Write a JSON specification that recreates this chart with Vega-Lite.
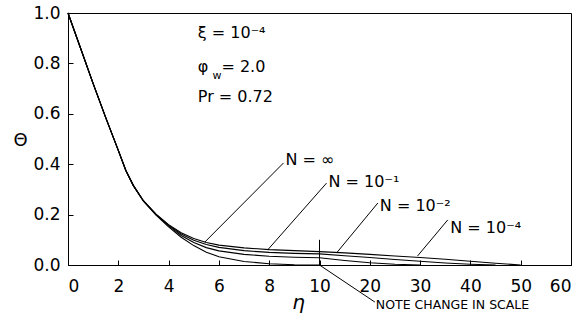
{
  "$schema": "https://vega.github.io/schema/vega-lite/v6.json",
  "width": 503,
  "height": 252,
  "autosize": {"type": "none"},
  "padding": {"left": 68, "top": 13, "right": 17, "bottom": 57},
  "background": "white",
  "config": {"view": {"stroke": "black", "strokeWidth": 1}, "font": "DejaVu Sans"},
  "datasets": {
    "curves": [
      {"series": "A", "eta": 0, "theta": 1.0}, {"series": "A", "eta": 0.5, "theta": 0.86}, {"series": "A", "eta": 1, "theta": 0.72}, {"series": "A", "eta": 1.5, "theta": 0.585}, {"series": "A", "eta": 2, "theta": 0.455}, {"series": "A", "eta": 2.3, "theta": 0.375}, {"series": "A", "eta": 2.6, "theta": 0.315}, {"series": "A", "eta": 3, "theta": 0.255}, {"series": "A", "eta": 3.5, "theta": 0.202},
      {"series": "A", "eta": 4, "theta": 0.16}, {"series": "A", "eta": 4.5, "theta": 0.128}, {"series": "A", "eta": 5, "theta": 0.105}, {"series": "A", "eta": 5.5, "theta": 0.089}, {"series": "A", "eta": 6, "theta": 0.079}, {"series": "A", "eta": 7, "theta": 0.068}, {"series": "A", "eta": 8, "theta": 0.061}, {"series": "A", "eta": 9, "theta": 0.057}, {"series": "A", "eta": 10, "theta": 0.053},
      {"series": "A", "eta": 15, "theta": 0.048}, {"series": "A", "eta": 20, "theta": 0.042}, {"series": "A", "eta": 25, "theta": 0.036}, {"series": "A", "eta": 30, "theta": 0.03}, {"series": "A", "eta": 35, "theta": 0.023}, {"series": "A", "eta": 40, "theta": 0.015}, {"series": "A", "eta": 45, "theta": 0.007}, {"series": "A", "eta": 50, "theta": 0.0},
      {"series": "B", "eta": 0, "theta": 1.0}, {"series": "B", "eta": 0.5, "theta": 0.86}, {"series": "B", "eta": 1, "theta": 0.72}, {"series": "B", "eta": 1.5, "theta": 0.585}, {"series": "B", "eta": 2, "theta": 0.455}, {"series": "B", "eta": 2.3, "theta": 0.375}, {"series": "B", "eta": 2.6, "theta": 0.315}, {"series": "B", "eta": 3, "theta": 0.254}, {"series": "B", "eta": 3.5, "theta": 0.201},
      {"series": "B", "eta": 4, "theta": 0.158}, {"series": "B", "eta": 4.5, "theta": 0.123}, {"series": "B", "eta": 5, "theta": 0.098}, {"series": "B", "eta": 5.5, "theta": 0.081}, {"series": "B", "eta": 6, "theta": 0.07}, {"series": "B", "eta": 7, "theta": 0.057}, {"series": "B", "eta": 8, "theta": 0.05}, {"series": "B", "eta": 9, "theta": 0.046}, {"series": "B", "eta": 10, "theta": 0.044},
      {"series": "B", "eta": 15, "theta": 0.037}, {"series": "B", "eta": 20, "theta": 0.03}, {"series": "B", "eta": 25, "theta": 0.022}, {"series": "B", "eta": 30, "theta": 0.015}, {"series": "B", "eta": 35, "theta": 0.008}, {"series": "B", "eta": 40, "theta": 0.003}, {"series": "B", "eta": 45, "theta": 0.0},
      {"series": "C", "eta": 0, "theta": 1.0}, {"series": "C", "eta": 0.5, "theta": 0.86}, {"series": "C", "eta": 1, "theta": 0.72}, {"series": "C", "eta": 1.5, "theta": 0.585}, {"series": "C", "eta": 2, "theta": 0.455}, {"series": "C", "eta": 2.3, "theta": 0.375}, {"series": "C", "eta": 2.6, "theta": 0.315}, {"series": "C", "eta": 3, "theta": 0.254}, {"series": "C", "eta": 3.5, "theta": 0.2},
      {"series": "C", "eta": 4, "theta": 0.155}, {"series": "C", "eta": 4.5, "theta": 0.117}, {"series": "C", "eta": 5, "theta": 0.089}, {"series": "C", "eta": 5.5, "theta": 0.069}, {"series": "C", "eta": 6, "theta": 0.056}, {"series": "C", "eta": 7, "theta": 0.042}, {"series": "C", "eta": 8, "theta": 0.035}, {"series": "C", "eta": 9, "theta": 0.031}, {"series": "C", "eta": 10, "theta": 0.029},
      {"series": "C", "eta": 15, "theta": 0.018}, {"series": "C", "eta": 20, "theta": 0.009}, {"series": "C", "eta": 25, "theta": 0.003}, {"series": "C", "eta": 30, "theta": 0.0},
      {"series": "D", "eta": 0, "theta": 1.0}, {"series": "D", "eta": 0.5, "theta": 0.86}, {"series": "D", "eta": 1, "theta": 0.72}, {"series": "D", "eta": 1.5, "theta": 0.585}, {"series": "D", "eta": 2, "theta": 0.455}, {"series": "D", "eta": 2.3, "theta": 0.375}, {"series": "D", "eta": 2.6, "theta": 0.315}, {"series": "D", "eta": 3, "theta": 0.253}, {"series": "D", "eta": 3.5, "theta": 0.198},
      {"series": "D", "eta": 4, "theta": 0.151}, {"series": "D", "eta": 4.5, "theta": 0.11}, {"series": "D", "eta": 5, "theta": 0.077}, {"series": "D", "eta": 5.5, "theta": 0.051}, {"series": "D", "eta": 6, "theta": 0.033}, {"series": "D", "eta": 7, "theta": 0.014}, {"series": "D", "eta": 8, "theta": 0.005}, {"series": "D", "eta": 9, "theta": 0.001}, {"series": "D", "eta": 10, "theta": 0.0}
    ],
    "leaders": [
      {"eta": 8.57, "theta": 0.405, "eta2": 5.44, "theta2": 0.091},
      {"eta": 11.4, "theta": 0.325, "eta2": 7.94, "theta2": 0.06},
      {"eta": 21.6, "theta": 0.246, "eta2": 13.4, "theta2": 0.048},
      {"eta": 35.5, "theta": 0.179, "eta2": 29.5, "theta2": 0.036},
      {"eta": 10, "theta": 0.1, "eta2": 10, "theta2": 0.0},
      {"eta": 10, "theta": 0.0, "eta2": 21.0, "theta2": -0.147}
    ],
    "nlabels": [
      {"label": "N = ∞", "eta": 8.65, "theta": 0.417},
      {"label": "N = 10⁻¹", "eta": 11.8, "theta": 0.33},
      {"label": "N = 10⁻²", "eta": 22.0, "theta": 0.234},
      {"label": "N = 10⁻⁴", "eta": 36.0, "theta": 0.147}
    ],
    "params": [
      {"label": "ξ = 10⁻⁴", "eta": 5.16, "theta": 0.92},
      {"label": "φ", "eta": 5.16, "theta": 0.786},
      {"label": "= 2.0", "eta": 6.1, "theta": 0.786},
      {"label": "Pr = 0.72", "eta": 5.16, "theta": 0.667}
    ],
    "subs": [
      {"label": "w", "eta": 5.75, "theta": 0.75}
    ],
    "notes": [
      {"label": "NOTE CHANGE IN SCALE", "eta": 21.2, "theta": -0.159}
    ]
  },
  "layer": [
    {
      "data": {"name": "curves"},
      "mark": {"type": "line", "color": "black", "strokeWidth": 1.1},
      "encoding": {
        "x": {
          "field": "eta", "type": "quantitative",
          "scale": {"domain": [0, 10, 60], "range": [0, 251.5, 503], "nice": false, "zero": false},
          "axis": {
            "title": "η", "values": [0, 2, 4, 6, 8, 10, 20, 30, 40, 50, 60], "format": "d",
            "grid": false, "tickSize": -5, "tickColor": "black", "domainColor": "black",
            "labelFontSize": 17, "labelColor": "black", "labelPadding": 18, "labelFont": "DejaVu Sans",
            "titleFontSize": 20, "titleFontWeight": "normal", "titleFontStyle": "italic", "titleColor": "black",
            "titleX": 230, "titleY": 37, "titleBaseline": "middle", "titleAlign": "center"
          }
        },
        "y": {
          "field": "theta", "type": "quantitative",
          "scale": {"domain": [0, 1], "nice": false, "zero": false},
          "axis": {
            "title": "Θ", "values": [0, 0.2, 0.4, 0.6, 0.8, 1.0], "format": ".1f",
            "grid": false, "tickSize": -5, "tickColor": "black", "domainColor": "black",
            "labelFontSize": 17, "labelColor": "black", "labelPadding": 13, "labelFont": "DejaVu Sans",
            "titleFontSize": 18, "titleFontWeight": "normal", "titleColor": "black", "titleAngle": 0,
            "titleX": -48, "titleY": 127, "titleBaseline": "middle", "titleAlign": "center"
          }
        },
        "detail": {"field": "series", "type": "nominal"}
      }
    },
    {
      "data": {"name": "leaders"},
      "mark": {"type": "rule", "color": "black", "strokeWidth": 1},
      "encoding": {
        "x": {"field": "eta", "type": "quantitative"},
        "y": {"field": "theta", "type": "quantitative"},
        "x2": {"field": "eta2"},
        "y2": {"field": "theta2"}
      }
    },
    {
      "data": {"name": "nlabels"},
      "mark": {"type": "text", "align": "left", "baseline": "middle", "fontSize": 16, "color": "black", "font": "DejaVu Sans"},
      "encoding": {
        "x": {"field": "eta", "type": "quantitative"},
        "y": {"field": "theta", "type": "quantitative"},
        "text": {"field": "label"}
      }
    },
    {
      "data": {"name": "params"},
      "mark": {"type": "text", "align": "left", "baseline": "middle", "fontSize": 16, "color": "black", "font": "DejaVu Sans"},
      "encoding": {
        "x": {"field": "eta", "type": "quantitative"},
        "y": {"field": "theta", "type": "quantitative"},
        "text": {"field": "label"}
      }
    },
    {
      "data": {"name": "subs"},
      "mark": {"type": "text", "align": "left", "baseline": "middle", "fontSize": 11, "color": "black", "font": "DejaVu Sans"},
      "encoding": {
        "x": {"field": "eta", "type": "quantitative"},
        "y": {"field": "theta", "type": "quantitative"},
        "text": {"field": "label"}
      }
    },
    {
      "data": {"name": "notes"},
      "mark": {"type": "text", "align": "left", "baseline": "middle", "fontSize": 12.5, "color": "black", "font": "DejaVu Sans"},
      "encoding": {
        "x": {"field": "eta", "type": "quantitative"},
        "y": {"field": "theta", "type": "quantitative"},
        "text": {"field": "label"}
      }
    }
  ]
}
